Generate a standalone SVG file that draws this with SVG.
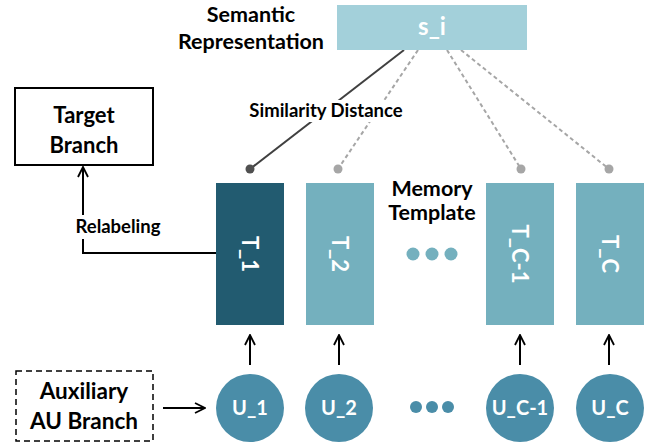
<svg xmlns="http://www.w3.org/2000/svg" width="658" height="444" viewBox="0 0 658 444">
<style>
text{font-family:Lato,"Open Sans","Liberation Sans",sans-serif;font-weight:bold;text-anchor:middle}
.lbl{fill:#000;font-size:21.5px}
.w{fill:#fff}
.tm{fill:#225B70}
.tl{fill:#74B0BE}
.u{fill:#4A8DA8}
.tt{font-size:22px}
.arr{stroke:#000;stroke-width:2;fill:none;marker-end:url(#ah)}
.dash{stroke:#A6A6A6;stroke-width:2;stroke-dasharray:4 3;fill:none}
</style>
<defs>
<marker id="ah" viewBox="0 0 12 12" refX="11" refY="6" markerWidth="6" markerHeight="6" orient="auto" markerUnits="strokeWidth">
<path d="M1,1 L11,6 L1,11" fill="none" stroke="#000" stroke-width="1.8"/>
</marker>
</defs>
<rect width="658" height="444" fill="#fff"/>

<g id="connectors">
<line x1="404" y1="50" x2="250" y2="169" stroke="#404040" stroke-width="2"/>
<line class="dash" x1="418" y1="50" x2="338" y2="169"/>
<line class="dash" x1="447" y1="50" x2="521" y2="169"/>
<line class="dash" x1="461" y1="50" x2="609" y2="169"/>
<circle cx="250" cy="169" r="4.5" fill="#505050"/>
<circle cx="338" cy="169" r="4.5" fill="#A6A6A6"/>
<circle cx="521" cy="169" r="4.5" fill="#A6A6A6"/>
<circle cx="609" cy="169" r="4.5" fill="#A6A6A6"/>
<polyline class="arr" points="216,253 83,253 83,167"/>
<line class="arr" x1="250" y1="365" x2="250" y2="335"/>
<line class="arr" x1="339" y1="365" x2="339" y2="335"/>
<line class="arr" x1="520" y1="365" x2="520" y2="335"/>
<line class="arr" x1="609" y1="365" x2="609" y2="335"/>
<line class="arr" x1="163" y1="408" x2="205" y2="408"/>
</g>

<g id="labels">
<rect x="246" y="100" width="160" height="22" fill="#fff"/>
<text x="326" y="117" style="font-size:18.5px">Similarity Distance</text>
<rect x="68" y="215" width="100" height="24" fill="#fff"/>
<text x="118" y="233" style="font-size:18.5px">Relabeling</text>
<text class="lbl" x="251" y="22">Semantic</text>
<text class="lbl" x="251" y="49">Representation</text>
<text class="lbl" x="432" y="196">Memory</text>
<text class="lbl" x="432" y="220">Template</text>
</g>

<g id="s_i">
<rect x="337" y="5" width="190" height="45" fill="#A3D0DA"/>
<text class="w" x="432" y="35" style="font-size:24px">s_i</text>
</g>

<g id="target">
<rect x="15" y="88" width="138" height="77" fill="#fff" stroke="#000" stroke-width="2"/>
<text x="84" y="123" style="font-size:22px">Target</text>
<text x="84" y="153" style="font-size:22px">Branch</text>
</g>

<g id="auxiliary">
<rect x="16" y="371" width="137" height="70" fill="#fff" stroke="#000" stroke-width="1.5" stroke-dasharray="6 4"/>
<text x="84" y="399" style="font-size:22.5px">Auxiliary</text>
<text x="84" y="429" style="font-size:22.5px">AU Branch</text>
</g>

<g id="T_1">
<rect class="tm" x="216" y="183" width="68" height="142"/>
<text class="w tt" transform="translate(250,254) rotate(90)" y="8">T_1</text>
</g>
<g id="T_2">
<rect class="tl" x="306" y="183" width="68" height="142"/>
<text class="w tt" transform="translate(340,254) rotate(90)" y="8">T_2</text>
</g>
<g id="T_dots">
<circle class="tl" cx="413" cy="254" r="6.5"/>
<circle class="tl" cx="432" cy="254" r="6.5"/>
<circle class="tl" cx="451" cy="254" r="6.5"/>
</g>
<g id="T_C-1">
<rect class="tl" x="486" y="183" width="68" height="142"/>
<text class="w tt" transform="translate(520,254) rotate(90)" y="8">T_C-1</text>
</g>
<g id="T_C">
<rect class="tl" x="576" y="183" width="68" height="142"/>
<text class="w tt" transform="translate(610,254) rotate(90)" y="8">T_C</text>
</g>

<g id="U_1">
<circle class="u" cx="250" cy="408" r="34"/>
<text class="w" x="250" y="415" style="font-size:20px">U_1</text>
</g>
<g id="U_2">
<circle class="u" cx="339" cy="408" r="34"/>
<text class="w" x="339" y="415" style="font-size:20px">U_2</text>
</g>
<g id="U_dots">
<circle class="u" cx="416" cy="407" r="6"/>
<circle class="u" cx="432" cy="407" r="6"/>
<circle class="u" cx="448" cy="407" r="6"/>
</g>
<g id="U_C-1">
<circle class="u" cx="520" cy="408" r="34"/>
<text class="w" x="520" y="415" style="font-size:20px">U_C-1</text>
</g>
<g id="U_C">
<circle class="u" cx="610" cy="408" r="34"/>
<text class="w" x="610" y="415" style="font-size:20px">U_C</text>
</g>
</svg>
